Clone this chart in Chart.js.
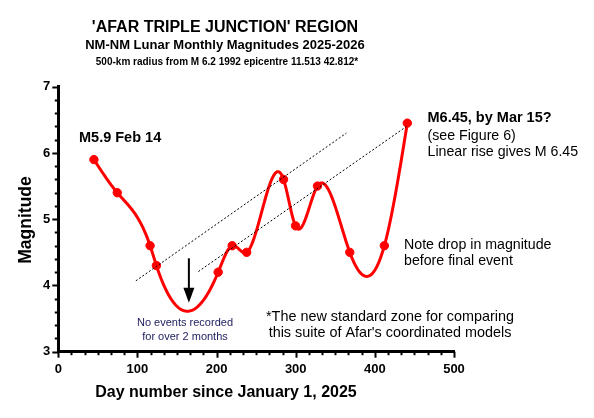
<!DOCTYPE html>
<html>
<head>
<meta charset="utf-8">
<script src="https://cdn.jsdelivr.net/npm/chart.js@4.4.1/dist/chart.umd.min.js"></script>
<style>
  html, body { margin: 0; padding: 0; background: #fff; }
  #wrap { width: 594px; height: 418px; position: relative; }
</style>
</head>
<body>
<div id="wrap"><canvas id="c"></canvas></div>
<script>
// monthly (NM-NM) magnitudes
const days = [45, 74.5, 116, 124, 202, 219.7, 238, 284.6, 299.7, 327.5, 368.3, 412, 441];
const mags = [5.9, 5.4, 4.6, 4.3, 4.2, 4.6, 4.5, 5.6, 4.9, 5.5, 4.5, 4.6, 6.45];

// the two parallel "linear rise" guide lines  [day, magnitude]
const trendUpper = [[98, 4.07], [364, 6.30]];
const trendLower = [[177, 4.21], [440, 6.40]];

// arrow marking the quiet spell
const arrowFrom = [165, 4.41];
const arrowTo = [165, 3.74];

const xMajor = [0, 100, 200, 300, 400, 500];
const yMajor = [3, 4, 5, 6, 7];
const xMinorStep = 100 / 6;
const yMinorStep = 0.2;

const FONT = "'Liberation Sans', Arial, sans-serif";

// natural cubic spline through the points (same kind of curve as the original plot)
function naturalSpline(xs, ys) {
    const n = xs.length;
    const h = [];
    for (let i = 0; i < n - 1; i++) h[i] = xs[i + 1] - xs[i];
    const l = new Array(n).fill(1), mu = new Array(n).fill(0), z = new Array(n).fill(0);
    for (let i = 1; i < n - 1; i++) {
        const a = 3 / h[i] * (ys[i + 1] - ys[i]) - 3 / h[i - 1] * (ys[i] - ys[i - 1]);
        l[i] = 2 * (xs[i + 1] - xs[i - 1]) - h[i - 1] * mu[i - 1];
        mu[i] = h[i] / l[i];
        z[i] = (a - h[i - 1] * z[i - 1]) / l[i];
    }
    const c = new Array(n).fill(0), b = [], d = [];
    for (let j = n - 2; j >= 0; j--) {
        c[j] = z[j] - mu[j] * c[j + 1];
        b[j] = (ys[j + 1] - ys[j]) / h[j] - h[j] * (c[j + 1] + 2 * c[j]) / 3;
        d[j] = (c[j + 1] - c[j]) / (3 * h[j]);
    }
    return x => {
        let j = 0;
        while (j < n - 2 && x > xs[j + 1]) j++;
        const dx = x - xs[j];
        return ys[j] + b[j] * dx + c[j] * dx * dx + d[j] * dx * dx * dx;
    };
}
const curve = naturalSpline(days, mags);

/*SMOOTH CURVE*/
const splinePlugin = {
    id: "spline",
    beforeDatasetsDraw(chart) {
        const { ctx, scales: { x, y } } = chart;
        const p0 = x.getPixelForValue(days[0]);
        const p1 = x.getPixelForValue(days[days.length - 1]);
        ctx.save();
        ctx.strokeStyle = "#ff0000";
        ctx.lineWidth = 3;
        ctx.lineJoin = "round";
        ctx.lineCap = "round";
        ctx.beginPath();
        for (let px = p0; px <= p1 + 0.01; px += 0.5) {
            const py = y.getPixelForValue(curve(x.getValueForPixel(px)));
            if (px === p0) ctx.moveTo(px, py); else ctx.lineTo(px, py);
        }
        ctx.stroke();
        ctx.restore();
    }
};

/*TICKS, ARROW AND TEXT*/
const decorPlugin = {
    id: "decor",
    afterDraw(chart) {
        const { ctx, scales: { x, y } } = chart;
        const ax = x.getPixelForValue(0), ay = y.getPixelForValue(3);
        ctx.save();
        ctx.strokeStyle = "#000";
        ctx.lineWidth = 2;
        // y ticks
        for (let v = 3; v <= 7.0001; v += yMinorStep) {
            const major = yMajor.some(m => Math.abs(m - v) < 1e-6);
            const py = Math.round(y.getPixelForValue(v)) + 0.5;
            ctx.beginPath();
            ctx.moveTo(ax, py);
            ctx.lineTo(ax - (major ? 6 : 3.5), py);
            ctx.stroke();
        }
        // x ticks
        for (let v = 0; v <= 500.0001; v += xMinorStep) {
            const major = xMajor.some(m => Math.abs(m - v) < 1e-6);
            const px = Math.round(x.getPixelForValue(v)) + 0.5;
            ctx.beginPath();
            ctx.moveTo(px, ay);
            ctx.lineTo(px, ay + (major ? 6 : 3.5));
            ctx.stroke();
        }

        // arrow
        const axp = x.getPixelForValue(arrowFrom[0]);
        const y0 = y.getPixelForValue(arrowFrom[1]);
        const y1 = y.getPixelForValue(arrowTo[1]);
        ctx.lineWidth = 2;
        ctx.beginPath();
        ctx.moveTo(axp, y0);
        ctx.lineTo(axp, y1 - 10);
        ctx.stroke();
        ctx.fillStyle = "#000";
        ctx.beginPath();
        ctx.moveTo(axp - 5.5, y1 - 15);
        ctx.lineTo(axp + 5.5, y1 - 15);
        ctx.lineTo(axp, y1);
        ctx.closePath();
        ctx.fill();

        // titles
        ctx.textBaseline = "alphabetic";
        ctx.textAlign = "center";
        ctx.fillStyle = "#000";
        ctx.font = "bold 16px " + FONT;
        ctx.fillText("'AFAR TRIPLE JUNCTION' REGION", 225, 32);
        ctx.font = "bold 13px " + FONT;
        ctx.fillText("NM-NM Lunar Monthly Magnitudes 2025-2026", 225, 49);
        ctx.font = "bold 10px " + FONT;
        ctx.fillText("500-km radius from M 6.2 1992 epicentre 11.513 42.812*", 227, 65);

        // axis titles
        ctx.font = "bold 16px " + FONT;
        ctx.fillText("Day number since January 1, 2025", 226, 397);
        ctx.save();
        ctx.translate(31, 220);
        ctx.rotate(-Math.PI / 2);
        ctx.font = "bold 17.5px " + FONT;
        ctx.fillText("Magnitude", 0, 0);
        ctx.restore();

        // annotations
        ctx.textAlign = "left";
        ctx.font = "bold 14.5px " + FONT;
        ctx.fillText("M5.9 Feb 14", 79, 142);
        ctx.fillText("M6.45, by Mar 15?", 427.5, 121.5);
        ctx.font = "14.2px " + FONT;
        ctx.fillText("(see Figure 6)", 427.5, 139.5);
        ctx.fillText("Linear rise gives M 6.45", 427.5, 155.5);
        ctx.fillText("Note drop in magnitude", 404, 248.5);
        ctx.fillText("before final event", 404, 265);
        ctx.textAlign = "center";
        ctx.font = "14.4px " + FONT;
        ctx.fillText("*The new standard zone for comparing", 390, 321);
        ctx.fillText("this suite of Afar's coordinated models", 390, 337);
        ctx.fillStyle = "#1c1c5c";
        ctx.font = "11px " + FONT;
        ctx.fillText("No events recorded", 185, 326);
        ctx.fillText("for over 2 months", 185, 340);
        ctx.restore();
    }
};

new Chart(document.getElementById("c"), {
    type: "scatter",
    data: {
        datasets: [{
            label: "Upper guide",
            data: trendUpper.map(([d, m]) => ({ x: d, y: m })),
            showLine: true,
            borderColor: "#000",
            borderWidth: 1,
            borderDash: [2, 2],
            pointRadius: 0
        }, {
            label: "Lower guide",
            data: trendLower.map(([d, m]) => ({ x: d, y: m })),
            showLine: true,
            borderColor: "#000",
            borderWidth: 1,
            borderDash: [2, 2],
            pointRadius: 0
        }, {
            label: "Magnitude",
            data: days.map((d, i) => ({ x: d, y: mags[i] })),
            showLine: false,
            pointRadius: 4.2,
            pointBackgroundColor: "#ff0000",
            pointBorderColor: "#ff0000",
            pointBorderWidth: 1
        }]
    },
    options: {
        responsive: true,
        maintainAspectRatio: false,
        animation: false,
        layout: { padding: { top: 86.7, right: 140, left: 0, bottom: 0 } },
        plugins: {
            legend: { display: false },
            tooltip: { enabled: false }
        },
        scales: {
            x: {
                type: "linear",
                min: 0,
                max: 500,
                afterFit: s => { s.height = 66.3; },
                afterBuildTicks: s => { s.ticks = xMajor.map(v => ({ value: v })); },
                grid: { display: false, drawTicks: true, tickLength: 6 },
                border: { display: true, color: "#000", width: 3 },
                ticks: {
                    color: "#000",
                    padding: 4,
                    maxRotation: 0,
                    font: { family: FONT, size: 13, weight: "bold" }
                }
            },
            y: {
                type: "linear",
                min: 3,
                max: 7,
                afterFit: s => { s.width = 58.3; },
                afterBuildTicks: s => { s.ticks = yMajor.map(v => ({ value: v })); },
                grid: { display: false, drawTicks: true, tickLength: 6 },
                border: { display: true, color: "#000", width: 3 },
                ticks: {
                    color: "#000",
                    padding: 2,
                    font: { family: FONT, size: 13, weight: "bold" }
                }
            }
        }
    },
    plugins: [splinePlugin, decorPlugin]
});
</script>
</body>
</html>
